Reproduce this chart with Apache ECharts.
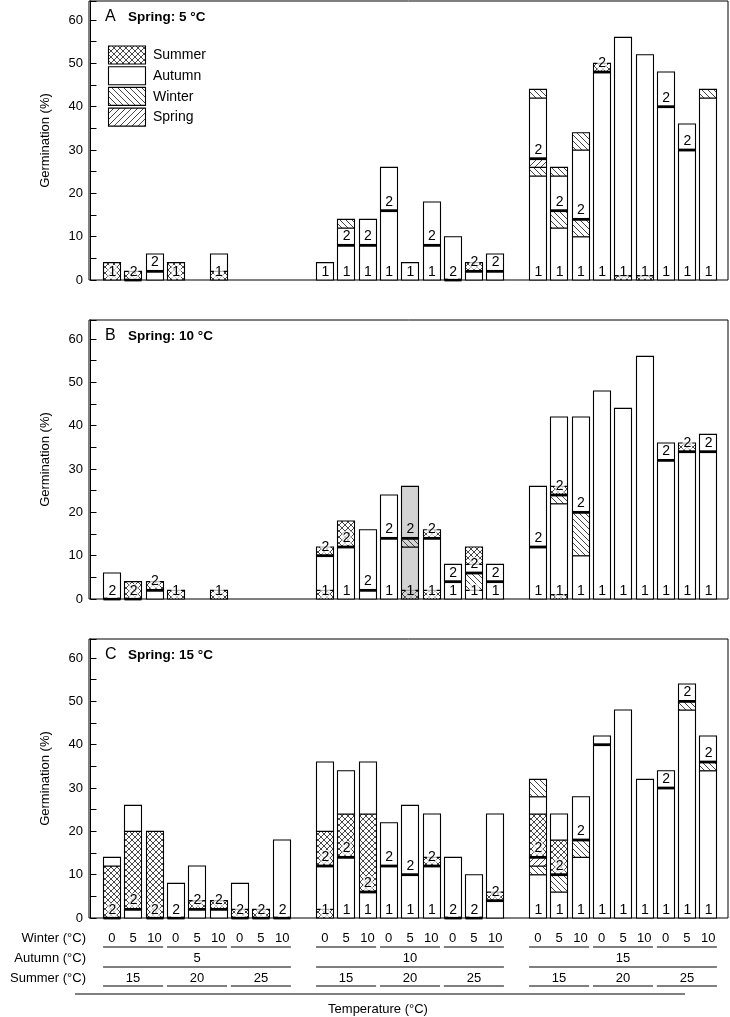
<!DOCTYPE html>
<html><head><meta charset="utf-8">
<script src="https://cdn.jsdelivr.net/npm/echarts@6/dist/echarts.min.js"></script>
<style>html,body{margin:0;padding:0;background:#fff}#c{width:730px;height:1017px}</style>
</head><body><div id="c"></div>
<script>
// ---- categories / labels ----
const summerTemps = ['15','20','25'];
const autumnTemps = ['5','10','15'];
const winterTemps = ['0','5','10'];
const panelLetters = ['A','B','C'];
const panelTitles = ['Spring: 5 °C','Spring: 10 °C','Spring: 15 °C'];
const seasonNames = ['Summer','Autumn','Winter','Spring'];
const seasonCodes = ['x','w','b','f'];
const yTickLabels = [0,10,20,30,40,50,60];

// ---- segments per bar: [season code, from %, to %] (x summer, w autumn, b winter, f spring) ----
const segA = [
 [['x',0,4]], [['x',0,2]], [['w',0,6]], [['x',0,4]], [], [['x',0,2],['w',2,6]], [], [], [],
 [['w',0,4]], [['w',0,12],['b',12,14]], [['w',0,14]], [['w',0,26]], [['w',0,4]], [['w',0,18]], [['w',0,10]], [['w',0,2],['x',2,4]], [['w',0,6]],
 [['w',0,24],['b',24,26],['f',26,28],['w',28,42],['b',42,44]], [['w',0,12],['b',12,16],['w',16,24],['b',24,26]], [['w',0,10],['b',10,14],['w',14,30],['b',30,34]],
 [['w',0,48],['x',48,50]], [['x',0,1],['w',1,56]], [['x',0,1],['w',1,52]], [['w',0,48]], [['w',0,36]], [['w',0,42],['b',42,44]]
];
const segB = [
 [['w',0,6]], [['x',0,4]], [['w',0,2],['x',2,4]], [['x',0,2]], [], [['x',0,2]], [], [], [],
 [['x',0,2],['w',2,10],['x',10,12]], [['w',0,12],['x',12,18]], [['w',0,16]], [['w',0,24]], [['x',0,2],['w',2,12],['b',12,14],['w',14,26]],
 [['x',0,2],['w',2,14],['x',14,16]], [['w',0,8]], [['w',0,2],['b',2,6],['w',6,8],['x',8,12]], [['w',0,8]],
 [['w',0,26]], [['x',0,1],['w',1,22],['b',22,24],['x',24,26],['w',26,42]], [['w',0,10],['b',10,20],['w',20,42]],
 [['w',0,48]], [['w',0,44]], [['w',0,56]], [['w',0,36]], [['w',0,34],['x',34,36]], [['w',0,38]]
];
const segC = [
 [['x',0,12],['w',12,14]], [['w',0,2],['x',2,20],['w',20,26]], [['x',0,20]], [['w',0,8]], [['w',0,2],['x',2,4],['w',4,12]], [['w',0,2],['x',2,4]], [['x',0,2],['w',2,8]], [['x',0,2]], [['w',0,18]],
 [['x',0,2],['w',2,12],['x',12,20],['w',20,36]], [['w',0,14],['x',14,24],['w',24,34]], [['w',0,6],['x',6,24],['w',24,36]], [['w',0,22]], [['w',0,26]],
 [['w',0,12],['x',12,14],['w',14,24]], [['w',0,14]], [['w',0,10]], [['w',0,4],['x',4,6],['w',6,24]],
 [['w',0,10],['b',10,12],['f',12,14],['x',14,24],['w',24,28],['b',28,32]], [['w',0,6],['b',6,10],['x',10,18],['w',18,24]], [['w',0,14],['b',14,18],['w',18,28]],
 [['w',0,42]], [['w',0,48]], [['w',0,32]], [['w',0,34]], [['w',0,48],['b',48,50],['w',50,54]], [['w',0,34],['b',34,36],['w',36,42]]
];
// germination accumulated in the first year (thick line)
const year1A = [4,0,2,4,0,6,0,0,0, 4,8,8,16,4,8,0,2,2, 28,16,14,48,56,52,40,30,44];
const year1B = [0,0,2,2,0,2,0,0,0, 10,12,2,14,14,14,4,6,4, 12,24,20,48,44,56,32,34,34];
const year1C = [0,2,0,0,2,2,0,0,0, 12,14,6,12,10,12,0,0,4, 14,10,18,40,48,32,30,50,36];
// year labels shown on each bar
const yearLabA = ['1','2','2','1','','1','','','', '1','12','12','12','1','12','2','2','2', '12','12','12','12','1','1','12','12','1'];
const yearLabB = ['2','2','2','1','','1','','','', '12','12','2','12','12','12','12','12','12', '12','12','12','1','1','1','12','12','12'];
const yearLabC = ['2','2','2','2','2','2','2','2','2', '12','12','12','12','12','12','2','2','2', '12','12','12','1','1','1','12','12','12'];
// highlighted (grey) bars, by panel
const shadedA = [], shadedB = [13], shadedC = [];

const panels = [
  {seg: segA, y1: year1A, lab: yearLabA, shaded: shadedA},
  {seg: segB, y1: year1B, lab: yearLabB, shaded: shadedB},
  {seg: segC, y1: year1C, lab: yearLabC, shaded: shadedC}
];

const FONT = "'Liberation Sans', Arial, Helvetica, sans-serif";
const GRID_TOPS = [1, 320, 639];
const GRID_H = 279;
const BAR_W = 0.82;

function slotOf(i){ return 1 + Math.floor(i/9)*10 + (i%9); }

function makePattern(kind){
  const s = 6;
  const c = document.createElement('canvas'); c.width = s; c.height = s;
  const g = c.getContext('2d');
  g.strokeStyle = '#333'; g.lineWidth = 0.9;
  if (kind === 'b' || kind === 'x'){
    g.beginPath(); g.moveTo(-1,-1); g.lineTo(s+1,s+1); g.stroke();
    g.beginPath(); g.moveTo(-1,s-1); g.lineTo(1,s+1); g.stroke();
    g.beginPath(); g.moveTo(s-1,-1); g.lineTo(s+1,1); g.stroke();
  }
  if (kind === 'f' || kind === 'x'){
    g.beginPath(); g.moveTo(-1,s+1); g.lineTo(s+1,-1); g.stroke();
    g.beginPath(); g.moveTo(-1,1); g.lineTo(1,-1); g.stroke();
    g.beginPath(); g.moveTo(s-1,s+1); g.lineTo(s+1,s-1); g.stroke();
  }
  return {image: c, repeat: 'repeat'};
}
const patterns = {x: makePattern('x'), b: makePattern('b'), f: makePattern('f')};

function makeRender(p){
  const P = panels[p];
  return function(params, api){
    const i = params.dataIndex;
    const segs = P.seg[i];
    if (!segs.length) return {type:'group', children:[]};
    const xv = api.value(0);
    const w = api.size([BAR_W, 0])[0];
    const cx = api.coord([xv, 0])[0];
    const x0 = Math.round(cx - w/2) + 0.5;
    const ww = Math.round(w);
    const shaded = P.shaded.indexOf(i) >= 0;
    const ch = [];
    let total = 0;
    segs.forEach(s => {
      const yb = api.coord([xv, s[1]])[1];
      const yt = api.coord([xv, s[2]])[1];
      total = Math.max(total, s[2]);
      ch.push({type:'rect', shape:{x:x0, y:yt, width:ww, height:yb-yt},
        style:{fill: shaded ? '#d3d3d3' : '#fff', stroke:'none'}});
      if (patterns[s[0]]) {
        ch.push({type:'rect', shape:{x:x0, y:yt, width:ww, height:yb-yt},
          style:{fill: patterns[s[0]], stroke:'none'}});
      }
      ch.push({type:'rect', shape:{x:x0, y:yt, width:ww, height:yb-yt},
        style:{fill:'none', stroke:'#000', lineWidth:1.1}});
    });
    const y1 = P.y1[i];
    const y1px = api.coord([xv, y1])[1];
    const basePx = api.coord([xv, 0])[1];
    if (y1 < total) {
      ch.push({type:'line', shape:{x1:x0, y1:y1px, x2:x0+ww, y2:y1px},
        style:{stroke:'#000', lineWidth:2.8}});
    }
    const lab = P.lab[i];
    const bg = shaded ? 'rgba(211,211,211,0.75)' : 'rgba(255,255,255,0.72)';
    const tstyle = (t, y) => ({type:'text', style:{text:t, x:cx+0.5, y:y, align:'center', verticalAlign:'bottom',
      font:'14px ' + FONT, fill:'#000', backgroundColor:bg, padding:[0,1,0,1]}});
    if (lab.indexOf('1') >= 0) ch.push(tstyle('1', basePx - 1));
    if (lab.indexOf('2') >= 0) ch.push(tstyle('2', (y1 > 0 ? y1px - 2 : basePx - 1)));
    return {type:'group', children: ch};
  };
}

const grids = [], xAxes = [], yAxes = [], series = [];
for (let p = 0; p < 3; p++){
  grids.push({left:89, top:GRID_TOPS[p], width:639, height:GRID_H, show:true, borderColor:'#000', borderWidth:1, backgroundColor:'#fff'});
  xAxes.push({type:'value', gridIndex:p, min:-0.07, max:29.93, show:false});
  yAxes.push({type:'value', gridIndex:p, min:0, max:64.4, interval:5,
    axisLine:{show:true, lineStyle:{color:'#000', width:1}},
    axisTick:{show:true, inside:true, length:6, lineStyle:{color:'#000'}},
    axisLabel:{formatter: v => yTickLabels.indexOf(v) >= 0 ? String(v) : '', color:'#000', fontSize:13, fontFamily:FONT, margin:6},
    splitLine:{show:false},
    name:'Germination (%)', nameLocation:'middle', nameGap:37, nameRotate:90,
    nameTextStyle:{color:'#000', fontSize:13, fontFamily:FONT}});
  const data = panels[p].seg.map((s, i) => [slotOf(i), s.reduce((m, q) => Math.max(m, q[2]), 0)]);
  series.push({type:'custom', xAxisIndex:p, yAxisIndex:p, data:data, renderItem: makeRender(p), silent:true, animation:false, clip:false, z:3});
}

const chart = echarts.init(document.getElementById('c'), null, {renderer:'canvas'});
chart.setOption({animation:false, backgroundColor:'#fff', grid:grids, xAxis:xAxes, yAxis:yAxes, series:series});

// ---- annotations: titles, legend, bottom category labels ----
const G = [];
const txt = (t, x, y, opts) => Object.assign({type:'text', silent:true, z:10, style:Object.assign({text:t, x:x, y:y, fill:'#000', font:'13px ' + FONT, align:'left', verticalAlign:'middle'}, opts || {})});
const ln = (x1, y1, x2, y2) => ({type:'line', silent:true, z:10, shape:{x1:x1, y1:y1, x2:x2, y2:y2}, style:{stroke:'#000', lineWidth:1.2}});

for (let p = 0; p < 3; p++){
  const top = GRID_TOPS[p];
  G.push(txt(panelLetters[p], 105, top + 16, {font:'16px ' + FONT}));
  G.push(txt(panelTitles[p], 128, top + 16, {font:'bold 13.5px ' + FONT}));
}
// legend
seasonCodes.forEach((c, k) => {
  const y = 46 + k * 20.7;
  G.push({type:'rect', silent:true, z:10, shape:{x:108.5, y:y, width:37, height:18}, style:{fill:'#fff', stroke:'none'}});
  if (patterns[c]) G.push({type:'rect', silent:true, z:10, shape:{x:108.5, y:y, width:37, height:18}, style:{fill:patterns[c], stroke:'none'}});
  G.push({type:'rect', silent:true, z:10, shape:{x:108.5, y:y, width:37, height:18}, style:{fill:'none', stroke:'#000', lineWidth:1.1}});
  G.push(txt(seasonNames[k], 153, y + 9.5, {font:'14px ' + FONT}));
});

// bottom category axis
const px = v => chart.convertToPixel({xAxisIndex:2}, v);
const halfW = (px(BAR_W) - px(0)) / 2;
const ROW_W = 938, ROW_A = 958, ROW_S = 978;
G.push(txt('Winter (°C)', 86, ROW_W, {align:'right'}));
G.push(txt('Autumn (°C)', 86, ROW_A, {align:'right'}));
G.push(txt('Summer (°C)', 86, ROW_S, {align:'right'}));
for (let i = 0; i < 27; i++) {
  G.push(txt(winterTemps[i % 3], px(slotOf(i)), ROW_W, {align:'center'}));
}
for (let t = 0; t < 9; t++) {
  const a = px(slotOf(t*3)) - halfW, b = px(slotOf(t*3+2)) + halfW;
  G.push(ln(a, ROW_W + 9, b, ROW_W + 9));
  G.push(txt(summerTemps[t % 3], (a + b) / 2, ROW_S, {align:'center'}));
  G.push(ln(a, ROW_S + 8, b, ROW_S + 8));
}
for (let g = 0; g < 3; g++) {
  const a = px(slotOf(g*9)) - halfW, b = px(slotOf(g*9+8)) + halfW;
  G.push(txt(autumnTemps[g], (a + b) / 2, ROW_A, {align:'center'}));
  G.push(ln(a, ROW_A + 9, b, ROW_A + 9));
}
G.push(ln(75, 994, 685, 994));
G.push(txt('Temperature (°C)', 378, 1009, {align:'center'}));

chart.setOption({graphic: G});
</script>
</body></html>
